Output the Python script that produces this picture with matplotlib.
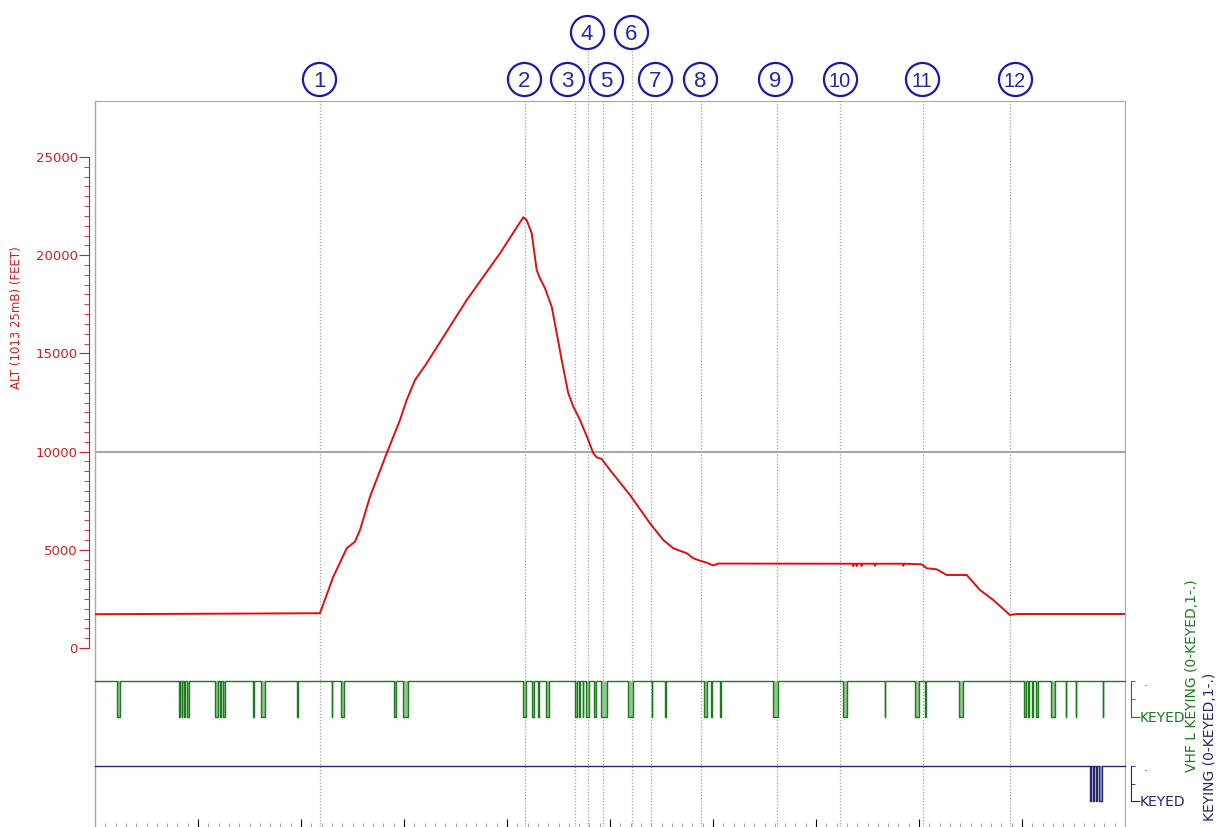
import numpy as np
import matplotlib.pyplot as plt

# pressure altitude, time in minutes from start of record
alt_t = [0.0, 21.84, 23.14, 24.44, 25.24, 25.73, 26.70, 28.32, 29.61, 30.26, 31.07, 32.20, 36.09, 39.32,
         41.58, 41.91, 42.40, 42.88, 43.20, 43.69, 44.34, 44.83, 45.31, 45.95, 46.44, 47.09, 47.89, 48.38,
         48.71, 49.19, 50.00, 51.94, 53.88, 55.17, 56.15, 57.45, 58.09, 58.74, 59.39, 60.03, 60.51,
         73.57, 73.62, 73.67, 73.90, 73.95, 74.00, 74.38, 74.43, 74.48, 75.68, 75.73, 75.78,
         78.43, 78.48, 78.53,
         80.26, 80.75, 81.72, 82.69, 84.63, 85.92, 87.21, 88.83, 89.49, 100.0]
alt_ft = [1720, 1770, 3631, 5077, 5413, 6009, 7704, 9914, 11610, 12628, 13647, 14497, 17720, 20098,
          21932, 21794, 21116, 19248, 18825, 18316, 17379, 16024, 14665, 12969, 12287, 11610, 10591, 9914,
          9711, 9624, 9064, 7791, 6350, 5499, 5077, 4822, 4568, 4445, 4344, 4201, 4300,
          4290, 4170, 4290, 4290, 4170, 4290, 4290, 4180, 4290, 4290, 4190, 4290,
          4290, 4190, 4290,
          4262, 4058, 4007, 3717, 3717, 2953, 2444, 1680, 1731, 1731]

# VHF L transmitter keyed periods (start, end)
vhf_key_start = [2.11, 8.18, 8.42, 8.67, 8.90, 11.68, 12.14, 12.40, 15.37, 16.09, 19.64, 22.98, 23.85,
                 29.03, 29.93, 41.58, 42.40, 43.04, 43.76, 46.60, 46.98, 47.35, 47.64, 48.48, 49.17,
                 51.79, 54.05, 55.37, 59.10, 59.79, 60.66, 65.87, 72.59, 76.67, 79.61, 80.60, 83.86,
                 90.23, 90.55, 90.95, 91.35, 92.84, 94.24, 95.21, 97.83]
vhf_key_end = [2.43, 8.25, 8.49, 8.74, 9.13, 11.94, 12.21, 12.59, 15.44, 16.50, 19.71, 23.05, 24.20,
               29.22, 30.36, 41.81, 42.62, 43.11, 44.08, 46.75, 47.09, 47.42, 47.96, 48.64, 49.71,
               52.23, 54.12, 55.44, 59.44, 59.86, 60.73, 66.33, 73.01, 76.74, 79.97, 80.67, 84.32,
               90.35, 90.70, 91.10, 91.60, 93.20, 94.31, 95.28, 97.90]

# second keying channel
hf_key_start = [96.62, 96.88, 97.15, 97.45]
hf_key_end = [96.70, 96.96, 97.24, 97.80]

# numbered events
event_x = [21.84, 41.75, 46.60, 47.86, 49.32, 52.09, 53.98, 58.83, 66.21, 72.33, 80.39, 88.83]
label_x = [21.75, 41.65, 45.83, 47.77, 49.61, 52.04, 54.37, 58.74, 66.02, 72.33, 80.29, 89.32]
event_labels = ['1', '2', '3', '4', '5', '6', '7', '8', '9', '10', '11', '12']
upper_row = ['4', '6']

RED = '#cc1f1f'
GREEN = '#1d7a1d'
NAVY = '#25256e'
GRID = '#a8a8a8'


def keyed_trace(starts, ends):
    xs, ys = [0.0], [1]
    for s, e in zip(starts, ends):
        xs += [s, s, e, e]
        ys += [1, 0, 0, 1]
    xs.append(100.0)
    ys.append(1)
    return np.array(xs), np.array(ys)


fig = plt.figure(figsize=(12.17, 8.27), dpi=100)
left, width = 95 / 1217, 1030 / 1217

ax = fig.add_axes([left, 0, width, 726 / 827])
ax.set_xlim(0, 100)
ax.set_ylim(-9115, 27853)

for side in ['top', 'right', 'bottom']:
    ax.spines[side].set_color(GRID)
ax.axvline(0, color=GRID, lw=1, clip_on=False)

ax.spines['left'].set_position(('outward', 4.3))
ax.spines['left'].set_bounds(0, 25000)
ax.spines['left'].set_color(RED)
ax.set_yticks(np.arange(0, 25001, 5000))
ax.set_yticks(np.arange(0, 25001, 500), minor=True)
ax.tick_params(axis='y', which='major', length=7, color=RED, labelcolor=RED, labelsize=9.5, pad=1)
ax.tick_params(axis='y', which='minor', length=3.4, color=RED)

ax.set_xticks(np.arange(10, 100, 10))
ax.set_xticks(np.arange(0, 101, 1), minor=True)
ax.set_xticklabels([])
ax.tick_params(axis='x', which='major', direction='in', length=5.8, color='black')
ax.tick_params(axis='x', which='minor', direction='in', length=2.9, color='#909090')

ax.axhline(10000, color=GRID, lw=1.5, zorder=1)

xtr = ax.get_xaxis_transform()
for x, lab, lx in zip(event_x, event_labels, label_x):
    top = 1.073 if lab in upper_row else 1.0
    ax.plot([x, x], [0, top], transform=xtr, color='#a0a0a0', lw=0.9,
            ls=(0, (1, 1.5)), clip_on=False, zorder=1)
    ly = 1.095 if lab in upper_row else 1.0303
    ax.plot(lx, ly, 'o', transform=xtr, ms=23.8, mfc='white', mec='#1a1aa6', mew=1.6,
            clip_on=False, zorder=5)
    ax.text(lx, ly, lab, transform=xtr, ha='center', va='center_baseline',
            fontsize=16 if len(lab) == 1 else 14.5, color='#1e28aa',
            family='Liberation Sans', zorder=6)

ax.plot(alt_t, alt_ft, color='#dd0f0f', lw=1.4, zorder=3)

fig.text(17 / 1217, 1 - 318 / 827, 'ALT (1013 25mB) (FEET)', rotation=90,
         ha='center', va='center', color=RED, fontsize=8.5)


def keying_band(bottom_px, top_px, starts, ends, color, fill):
    b = fig.add_axes([left, 1 - bottom_px / 827, width, (bottom_px - top_px) / 827])
    b.set_facecolor('none')
    b.set_xlim(0, 100)
    b.set_ylim(0, 1)
    xs, ys = keyed_trace(starts, ends)
    b.fill_between(xs, ys, 1, color=fill, lw=0)
    b.plot(xs, ys, color=color, lw=1.0, clip_on=False)
    for side in ['top', 'left', 'bottom']:
        b.spines[side].set_visible(False)
    b.spines['right'].set_position(('outward', 4.3))
    b.spines['right'].set_color(color)
    b.set_xticks([])
    b.yaxis.tick_right()
    b.set_yticks([0])
    b.set_yticklabels(['KEYED'])
    b.set_yticks([0.5, 1], minor=True)
    b.set_yticklabels(['', '.'], minor=True)
    b.tick_params(axis='y', which='major', length=6.5, color=color, labelcolor=color,
                  labelsize=10, pad=0)
    b.tick_params(axis='y', which='minor', length=3, color=color, labelcolor=color,
                  labelsize=9, pad=6)
    return b


keying_band(717, 681, vhf_key_start, vhf_key_end, GREEN, '#8cc88c')
keying_band(801, 766, hf_key_start, hf_key_end, NAVY, '#9a9ad0')

fig.text(1192 / 1217, 1 - 676 / 827, 'VHF L KEYING (0-KEYED,1-.)', rotation=90,
         ha='center', va='center', color=GREEN, fontsize=10)
fig.text(1210 / 1217, 1 - 673 / 827, 'KEYING (0-KEYED,1-.)', rotation=90,
         ha='center', va='top', color=NAVY, fontsize=10)

fig.savefig('out.png', dpi=100)
